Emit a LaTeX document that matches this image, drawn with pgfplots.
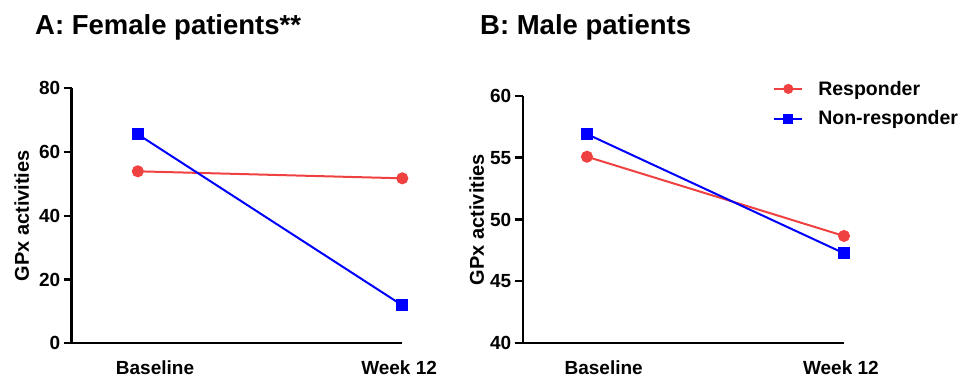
\documentclass[border=0pt]{standalone}
\usepackage{pgfplots}
\pgfplotsset{compat=1.18}
\usepackage{fontspec}
\setmainfont{Liberation Sans}
\definecolor{rred}{RGB}{240,65,65}
\definecolor{bblue}{RGB}{0,0,255}
\begin{document}
\begin{tikzpicture}
\useasboundingbox (0pt,0pt) rectangle (967pt,380pt);
\pgfplotsset{
 myax/.style={
  scale only axis,
  clip=false,
  axis x line=bottom, axis y line=left,
  axis line style={line width=2.4pt,-},
  tick align=outside, major tick length=8pt,
  every tick/.style={line width=2.2pt,black},
  xmin=-0.25, xmax=1.0,
  xtick={0.065,0.988}, xticklabels={Baseline,Week 12},
  x tick style={draw=none},
  xticklabel style={anchor=base, yshift=-23pt},
  /pgf/number format/assume math mode=true,
  tick label style={font=\fontsize{19}{21}\selectfont\bfseries},
  label style={font=\fontsize{20}{22}\selectfont\bfseries},
  ylabel={GPx activities},
 },
 rline/.style={color=rred, line width=2pt, mark=*, mark size=5pt, mark options={solid}},
 bline/.style={color=bblue, line width=2pt, mark=square*, mark size=5pt, mark options={solid}},
}
\begin{axis}[myax, at={(71.7pt,36.7pt)}, anchor=south west,
  width=330.6pt, height=255pt,
  ymin=0, ymax=80, ytick={0,20,40,60,80},
  ylabel style={at={(axis description cs:0,0.5)}, anchor=center, yshift=50pt},
]
\addplot[rline] coordinates {(0,53.96) (1,51.76)};
\addplot[bline] coordinates {(0,65.57) (1,11.92)};
\end{axis}
\begin{axis}[myax, at={(522.7pt,36.7pt)}, anchor=south west,
  width=321.3pt, height=247.6pt,
  ymin=40, ymax=60, ytick={40,45,50,55,60},
  ylabel style={at={(axis description cs:0,0.5)}, anchor=center, yshift=46pt},
  legend style={draw=none, fill=none, at={(0.77,1.076)}, anchor=north west,
    font=\fontsize{19.5}{21}\selectfont\bfseries, row sep=10pt,
    /tikz/every odd column/.append style={column sep=13pt}},
  legend cell align=left,
  legend image code/.code={\draw[mark repeat=2, mark phase=2, mark size=4pt] plot coordinates {(0pt,0pt) (14pt,0pt) (28pt,0pt)};},
]
\addplot[rline] coordinates {(0,55.07) (1,48.67)};
\addlegendentry{Responder}
\addplot[bline] coordinates {(0,56.90) (1,47.27)};
\addlegendentry{Non-responder}
\end{axis}
\node[anchor=base west, inner sep=0, font=\fontsize{27.5}{30}\selectfont\bfseries] at (35pt,345pt) {A: Female patients**};
\node[anchor=base west, inner sep=0, font=\fontsize{27.5}{30}\selectfont\bfseries] at (480pt,345pt) {B: Male patients};
\end{tikzpicture}
\end{document}
